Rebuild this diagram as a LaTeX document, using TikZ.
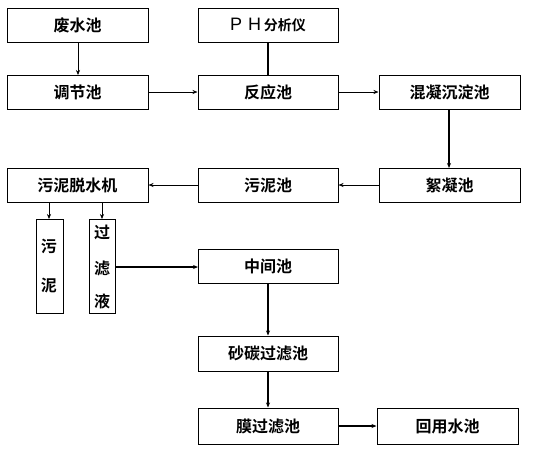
\documentclass[tikz,border=0pt]{standalone}
\usepackage{fontspec}
\setmainfont{Noto Sans CJK SC}[BoldFont={Noto Sans CJK SC Bold}]
\newfontfamily\latinfont{Liberation Sans}
\usetikzlibrary{arrows.meta}
\begin{document}
\begin{tikzpicture}[x=1pt,y=-1pt,
  box/.style={draw,line width=1pt,inner sep=0pt,font=\fontsize{16}{18}\selectfont\bfseries},
  vtext/.style={font=\fontsize{16}{18}\selectfont\bfseries},
  thin/.style={line width=0.6pt,-{Stealth[length=5pt,width=4pt]}},
  thick/.style={line width=1.2pt,-{Stealth[length=5pt,width=4pt]}}]
\useasboundingbox (0,0) rectangle (544,448);
\newcommand{\mkbox}[6]{\node[box,minimum width=#4-#2,minimum height=#5-#3] (#1) at ({(#2+#4)/2},{(#3+#5)/2}) {#6};}
\mkbox{feishui}{7}{8}{148}{42}{废水池}
\mkbox{ph}{198}{8}{338}{42}{{\mdseries\latinfont\fontsize{18}{18}\selectfont P\,\,H}\,\fontsize{14}{16}\selectfont 分析仪}
\mkbox{tiaojie}{7}{75}{148}{109}{调节池}
\mkbox{fanying}{198}{75}{338}{109}{反应池}
\mkbox{hunning}{379}{75}{520}{109}{混凝沉淀池}
\mkbox{tuoshui}{7}{168}{148}{202}{污泥脱水机}
\mkbox{wunichi}{198}{168}{338}{202}{污泥池}
\mkbox{xuning}{379}{168}{520}{202}{絮凝池}
\mkbox{wuni}{36}{219}{63}{313}{}
\mkbox{guolv}{89}{219}{115}{313}{}
\mkbox{zhongjian}{198}{249}{338}{283}{中间池}
\mkbox{shatan}{198}{336}{338}{371}{砂碳过滤池}
\mkbox{mo}{198}{408}{338}{444}{膜过滤池}
\mkbox{huiyong}{377}{408}{518}{444}{回用水池}
\node[vtext] (t1) at (49,246) {污};
\node[vtext] (t2) at (49,286) {泥};
\node[vtext] (t3) at (102,232) {过};
\node[vtext] (t4) at (102,268) {滤};
\node[vtext] (t5) at (102,301) {液};
\draw[thin] (78,42) -- (78,75);
\draw[line width=1.2pt] (ph.south) -- (fanying.north);
\draw[thin] (tiaojie.east) -- (fanying.west);
\draw[thin] (fanying.east) -- (hunning.west);
\draw[thick] (449,109) -- (449,168);
\draw[thin] (xuning.west) -- (wunichi.east);
\draw[thin] (wunichi.west) -- (tuoshui.east);
\draw[thin] (49,202) -- (49,219);
\draw[thin] (102,202) -- (102,219);
\draw[thick] (115,267) -- (198,267);
\draw[thick] (zhongjian.south) -- (shatan.north);
\draw[thick] (shatan.south) -- (mo.north);
\draw[thick] (mo.east) -- (huiyong.west);
\end{tikzpicture}
\end{document}
